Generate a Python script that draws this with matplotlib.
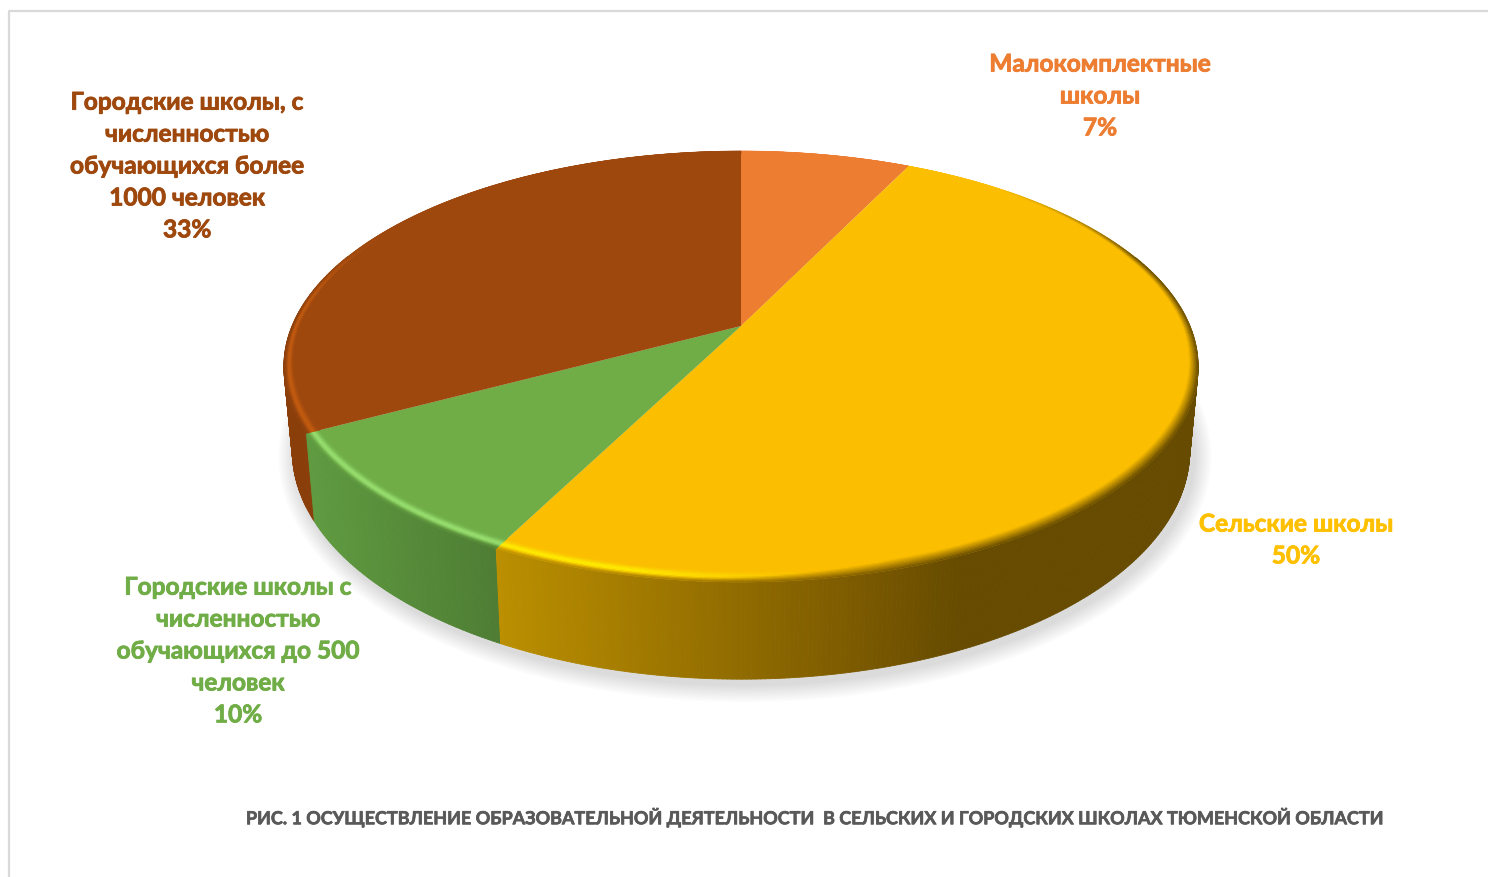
import numpy as np
import matplotlib
matplotlib.use('Agg')
import matplotlib.pyplot as plt
import matplotlib.patheffects as pe
from matplotlib.collections import PolyCollection
from matplotlib.colors import to_rgb

names = ['Малокомплектные\nшколы',
         'Сельские школы',
         'Городские школы с\nчисленностью\nобучающихся до 500\nчеловек',
         'Городские школы, с\nчисленностью\nобучающихся более\n1000 человек']
shares = [7.2, 50.3, 9.7, 32.8]
colors = ['#ED7D31', '#FBBE00', '#70AD47', '#9E480E']
highlights = ['#F79B55', '#FFEC00', '#98E070', '#C45C10']
label_colors = ['#ED7D31', '#FFC000', '#70AD47', '#9E480E']
label_pos = [(1100, 97), (1296, 541), (238, 652), (187, 167)]
title = 'РИС. 1 ОСУЩЕСТВЛЕНИЕ ОБРАЗОВАТЕЛЬНОЙ ДЕЯТЕЛЬНОСТИ  В СЕЛЬСКИХ И ГОРОДСКИХ ШКОЛАХ ТЮМЕНСКОЙ ОБЛАСТИ'

# side wall colour as a function of screen x, one ramp per slice
side_x = [[0, 1488],
          [497, 850, 960, 1488],
          [305, 497],
          [0, 1488]]
side_c = [['#A34F14', '#A34F14'],
          ['#BB8F00', '#7D5B00', '#664B00', '#664B00'],
          ['#5F9B40', '#4E7D33'],
          ['#8A3F0B', '#8A3F0B']]

# perspective of the pie disc
CX, APEX_Y = 741, 327
A, B, K = 449, 208, 0.188


def project(u, v):
    den = 1 + K * v
    return CX + A * u / den, APEX_Y - B * v / den


def drop(x, y):
    # rim point -> point on the lower edge of the wall
    depth = 97 - (583 - y) * 0.06
    return x + (CX - x) * 0.0184, y + depth


def side_color(i, x):
    rgb = np.array([to_rgb(c) for c in side_c[i]])
    return np.array([np.interp(x, side_x[i], rgb[:, k]) for k in range(3)])


fig = plt.figure(figsize=(14.88, 8.78), dpi=100)
ax = fig.add_axes([0, 0, 1, 1])
ax.set_xlim(0, 1488)
ax.set_ylim(878, 0)
ax.axis('off')

# frame of the pasted chart
ax.plot([9, 9, 1488], [878, 12, 12], color='#D9D9D9', lw=1.6, zorder=1)

# soft shadow under the pie
th = np.radians(np.arange(0, 360, 1))
sx, sy = drop(*project(np.sin(th), np.cos(th)))
for grow in range(18, 0, -2):
    px = CX + 4 + (sx - CX) * (1 + grow / 455)
    py = 440 + (sy - 440) * (1 + grow / 240) + 5
    ax.fill(px, py, color='black', alpha=0.017, lw=0, zorder=2)

starts = np.cumsum([0] + shares[:-1]) * 3.6
ends = np.cumsum(shares) * 3.6

# walls, far pieces first
quads = []
for i in range(4):
    grid = np.arange(starts[i], ends[i] + 0.5, 0.5)
    grid[-1] = ends[i]
    for a0, a1 in zip(grid[:-1], grid[1:]):
        t0, t1 = np.radians([a0, a1])
        if np.cos(t0) > 0.35 and np.cos(t1) > 0.35:
            continue
        x0, y0 = project(np.sin(t0), np.cos(t0))
        x1, y1 = project(np.sin(t1), np.cos(t1))
        x2, y2 = drop(x1, y1)
        x3, y3 = drop(x0, y0)
        quads.append(((y0 + y1) / 2, [(x0, y0), (x1, y1), (x2, y2), (x3, y3)],
                      side_color(i, (x0 + x1) / 2)))
quads.sort(key=lambda q: q[0])
ax.add_collection(PolyCollection([q[1] for q in quads], facecolors=[q[2] for q in quads],
                                 edgecolors=[q[2] for q in quads], linewidths=0.6, zorder=3))

# top faces
for i in range(4):
    t = np.radians(np.linspace(starts[i], ends[i], 300))
    x, y = project(np.sin(t), np.cos(t))
    ax.fill(np.r_[CX, x], np.r_[APEX_Y, y], color=colors[i], lw=0, zorder=4)

# bevel along the rim, about 8-10 px wide on screen
steps = 10
polys, cols = [], []
for i in range(4):
    base = np.array(to_rgb(colors[i]))
    hl = np.array(to_rgb(highlights[i]))
    grid = np.arange(starts[i], ends[i] + 0.5, 0.5)
    grid[-1] = ends[i]
    for a0, a1 in zip(grid[:-1], grid[1:]):
        t0, t1 = np.radians([a0, a1])
        tm = (t0 + t1) / 2
        xm, _ = project(np.sin(tm), np.cos(tm))
        vm = np.cos(tm)
        width = 0.02 + 0.022 * np.clip(-vm, 0, 1)
        light = np.clip((820 - xm) / 200, 0, 1) * np.clip((0.5 - vm) / 0.4, 0, 1)
        dark = np.clip((xm - 700) / 200, 0, 1) * np.clip((0.75 - vm) / 0.4, 0, 1)
        vis = max(np.clip((0.3 - vm) / 0.3, 0, 1), dark)
        side = side_color(i, xm)
        rings = np.linspace(1 - width, 1, steps + 1)
        for j in range(steps):
            r0, r1 = rings[j], rings[j + 1]
            s = (j + 0.5) / steps
            c = base + light * np.exp(-((s - 0.55) / 0.25) ** 2) * (hl - base)
            e0 = 0.7 - 0.5 * dark
            e = np.clip((s - e0) / (1 - e0), 0, 1)
            c = c + vis * e * (side - c)
            pts = [project(r0 * np.sin(t0), r0 * np.cos(t0)), project(r1 * np.sin(t0), r1 * np.cos(t0)),
                   project(r1 * np.sin(t1), r1 * np.cos(t1)), project(r0 * np.sin(t1), r0 * np.cos(t1))]
            polys.append(pts)
            cols.append(c)
ax.add_collection(PolyCollection(polys, facecolors=cols, edgecolors=cols, linewidths=0.3, zorder=5))

font = ['Lato', 'Open Sans', 'DejaVu Sans']
for i in range(4):
    txt = ax.text(label_pos[i][0], label_pos[i][1], f'{names[i]}\n{round(shares[i])}%', color=label_colors[i],
                  fontsize=17.6, fontweight='bold', family=font, ha='center', va='center',
                  linespacing=1.47, zorder=6)
    txt.set_path_effects([pe.withStroke(linewidth=0.6, foreground=label_colors[i])])

txt = ax.text(817, 818, title, color='#595959', fontsize=12.95, fontweight='bold', family=font,
              ha='center', va='center', zorder=6)
txt.set_path_effects([pe.withStroke(linewidth=0.5, foreground='#595959')])

fig.savefig('out.png', dpi=100)
